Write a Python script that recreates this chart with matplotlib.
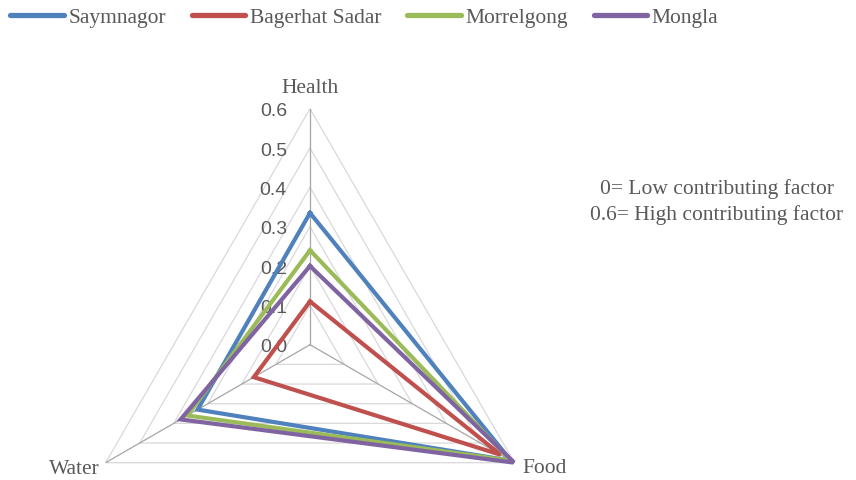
import numpy as np
import matplotlib
matplotlib.use("Agg")
import matplotlib.pyplot as plt
from matplotlib.lines import Line2D

categories = ["Health", "Food", "Water"]
series_names = ["Saymnagor", "Bagerhat Sadar", "Morrelgong", "Mongla"]
saymnagor = [0.335, 0.59, 0.33]
bagerhat_sadar = [0.11, 0.56, 0.165]
morrelgong = [0.24, 0.59, 0.36]
mongla = [0.20, 0.60, 0.38]
levels = [0.0, 0.1, 0.2, 0.3, 0.4, 0.5, 0.6]
level_labels = ["0.0", "0.1", "0.2", "0.3", "0.4", "0.5", "0.6"]
colors = ["#4F81BD", "#C0504D", "#9BBB59", "#8064A2"]

W, H = 856, 481
fig = plt.figure(figsize=(W / 100, H / 100), dpi=100)

# polar axes placed so the web centre and radius land where we want them
cx, cy, rad = 310, 481 - 345.7, 236
ax = fig.add_axes([(cx - rad) / W, (cy - rad) / H, 2 * rad / W, 2 * rad / H],
                  projection="polar")
ax.set_theta_offset(np.pi / 2)
ax.set_theta_direction(-1)
ax.set_ylim(0, 0.6)
ax.grid(False)
ax.set_xticks([])
ax.set_yticks([])
ax.spines["polar"].set_visible(False)
ax.patch.set_visible(False)

angles = np.linspace(0, 2 * np.pi, len(categories), endpoint=False)
closed = np.concatenate([angles, angles[:1]])

# triangular grid rings
for lv in levels[1:]:
    ax.plot(closed, [lv] * len(closed), color="#d9d9d9", lw=0.9, zorder=1)
# spokes
for a in angles:
    ax.plot([a, a], [0, 0.6], color="#a6a6a6", lw=0.9, zorder=1)

data = [saymnagor, bagerhat_sadar, morrelgong, mongla]
for vals, c in zip(data, colors):
    v = list(vals) + [vals[0]]
    ax.plot(closed, v, color=c, lw=3.0, zorder=3, solid_joinstyle="miter")

# radial value labels along the Health spoke
for lv, lab in zip(levels, level_labels):
    ax.annotate(lab, xy=(0, lv), xytext=(-23, -2), textcoords="offset pixels",
                ha="right", va="center", fontsize=14, color="#595959",
                family="Liberation Sans", zorder=2)

serif = "Liberation Serif"
ax.annotate("Health", xy=(angles[0], 0.6), xytext=(0, 21), textcoords="offset pixels",
            ha="center", va="center", fontsize=15.5, color="#595959", family=serif)
ax.annotate("Food", xy=(angles[1], 0.6), xytext=(8, -5), textcoords="offset pixels",
            ha="left", va="center", fontsize=15.5, color="#595959", family=serif)
ax.annotate("Water", xy=(angles[2], 0.6), xytext=(-6, -6), textcoords="offset pixels",
            ha="right", va="center", fontsize=15.5, color="#595959", family=serif)

handles = [Line2D([], [], color=c, lw=3.8, solid_capstyle="round") for c in colors]
fig.legend(handles, series_names, loc="center left",
           bbox_to_anchor=(10 / W, 1 - 18 / H), ncol=4, frameon=False,
           prop={"family": serif, "size": 15.5}, labelcolor="#595959",
           handlelength=2.5, handletextpad=0.2, columnspacing=1.2,
           borderpad=0, borderaxespad=0)

fig.text(717 / W, 1 - 202 / H, "0= Low contributing factor\n0.6= High contributing factor",
         ha="center", va="center", multialignment="center", fontsize=15.5,
         color="#595959", family=serif, linespacing=1.35)

fig.savefig("out.png", dpi=100)
